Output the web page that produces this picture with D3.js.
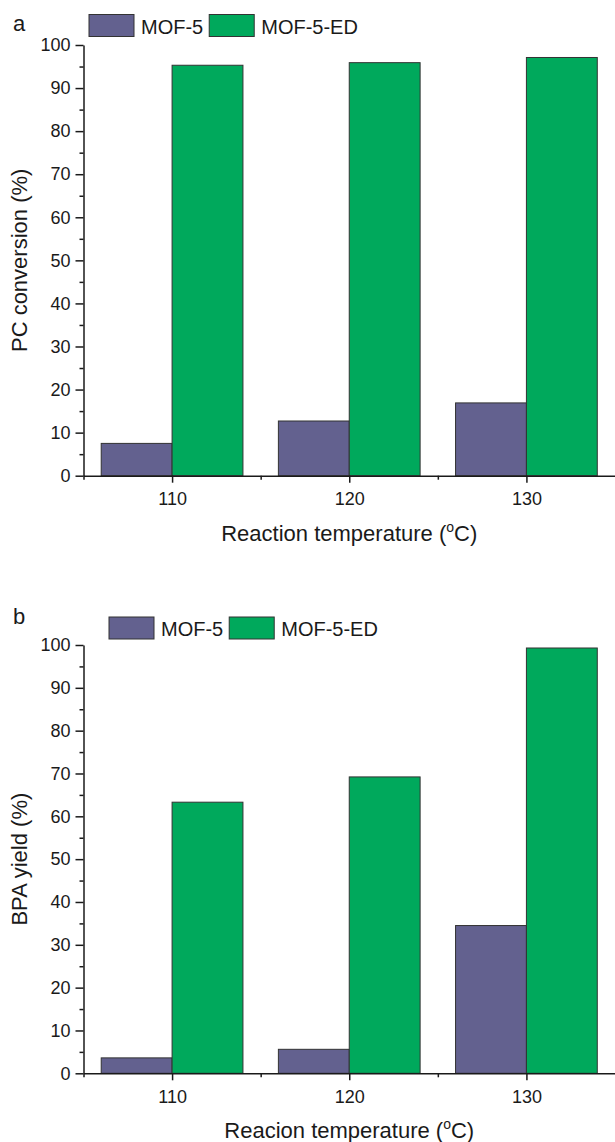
<!DOCTYPE html>
<html lang="en">
  <head>
    <meta charset="UTF-8" />
    <title>MOF-5 vs MOF-5-ED</title>
    <script src="https://d3js.org/d3.v7.min.js"></script>
    <style>
      body {
        margin: 0;
        background: #fff;
      }
      svg {
        display: block;
        font-family: "Liberation Sans", Arial, sans-serif;
      }
      .axis path,
      .axis line {
        stroke: #1a1a1a;
        stroke-width: 1.5;
      }
    </style>
  </head>
  <body>
    <div id="chart"></div>
    <script>
      // data
      const temps = [110, 120, 130];
      const seriesNames = ["MOF-5", "MOF-5-ED"];
      const convMOF5 = [7.5, 12.7, 16.9];
      const convED = [95.3, 95.9, 97.1];
      const yieldMOF5 = [3.6, 5.6, 34.5];
      const yieldED = [63.3, 69.2, 99.3];
      const yTicks = [0, 10, 20, 30, 40, 50, 60, 70, 80, 90, 100];

      const colors = ["#63618f", "#00a95c"];
      const barW = 4; // bar width in degrees

      const svg = d3
        .select("#chart")
        .append("svg")
        .attr("width", 615)
        .attr("height", 1142);

      const panels = [
        {
          letter: "a",
          values: [convMOF5, convED],
          yTitle: "PC conversion (%)",
          xTitle: "Reaction temperature (",
          top: 45,
          bottom: 475.7,
          letterY: 31,
          legendX: 89,
          legendY: 14.5,
        },
        {
          letter: "b",
          values: [yieldMOF5, yieldED],
          yTitle: "BPA yield (%)",
          xTitle: "Reacion temperature (",
          top: 645,
          bottom: 1073.3,
          letterY: 624,
          legendX: 109,
          legendY: 617,
        },
      ];

      const x = d3.scaleLinear().domain([105, 135]).range([83.5, 615]);

      // tick label styling
      const styleTicks = (a) =>
        a
          .selectAll("text")
          .attr("font-family", '"Liberation Sans", Arial, sans-serif')
          .attr("font-size", 18)
          .attr("fill", "#1a1a1a");

      panels.forEach((p) => {
        const g = svg.append("g");
        const y = d3.scaleLinear().domain([0, 100]).range([p.bottom, p.top]);

        // bars
        p.values.forEach((vals, s) => {
          g.selectAll(null)
            .data(vals)
            .enter()
            .append("rect")
            .attr("x", (d, i) => (s === 0 ? x(temps[i] - barW) : x(temps[i])))
            .attr("width", x(105 + barW) - x(105))
            .attr("y", (d) => y(d))
            .attr("height", (d) => y(0) - y(d))
            .attr("fill", colors[s])
            .attr("stroke", "#333")
            .attr("stroke-width", 1);
        });

        // y axis minor
        g.append("g")
          .attr("class", "axis")
          .attr("transform", `translate(${x(105)},0)`)
          .call(
            d3
              .axisLeft(y)
              .tickValues(d3.range(5, 100, 10))
              .tickSize(4)
              .tickFormat("")
          )
          .call((a) => a.select(".domain").remove());

        // y axis major
        g.append("g")
          .attr("class", "axis")
          .attr("transform", `translate(${x(105)},0)`)
          .call(
            d3
              .axisLeft(y)
              .tickValues(yTicks)
              .tickSize(8)
              .tickSizeOuter(0)
              .tickPadding(5)
          )
          .call(styleTicks);

        // x axis minor
        g.append("g")
          .attr("class", "axis")
          .attr("transform", `translate(0,${y(0)})`)
          .call(
            d3
              .axisBottom(x)
              .tickValues([105, 115, 125])
              .tickSize(4)
              .tickFormat("")
          )
          .call((a) => a.select(".domain").remove());

        // x axis major
        g.append("g")
          .attr("class", "axis")
          .attr("transform", `translate(0,${y(0)})`)
          .call(
            d3
              .axisBottom(x)
              .tickValues(temps)
              .tickSize(7)
              .tickSizeOuter(0)
              .tickPadding(10)
          )
          .call(styleTicks);

        // y title
        g.append("text")
          .attr(
            "transform",
            `translate(27,${(p.top + p.bottom) / 2}) rotate(-90)`
          )
          .attr("text-anchor", "middle")
          .attr("font-size", 22)
          .attr("fill", "#1a1a1a")
          .text(p.yTitle);

        // x title with superscript o
        const xt = g
          .append("text")
          .attr("x", x(120))
          .attr("y", p.bottom + 65)
          .attr("text-anchor", "middle")
          .attr("font-size", 22)
          .attr("fill", "#1a1a1a");
        xt.append("tspan").text(p.xTitle);
        xt.append("tspan").attr("dy", -9).attr("font-size", 14).text("o");
        xt.append("tspan").attr("dy", 9).text("C)");

        // panel letter
        g.append("text")
          .attr("x", 13)
          .attr("y", p.letterY)
          .attr("font-size", 22)
          .attr("fill", "#1a1a1a")
          .text(p.letter);

        // legend
        const leg = g
          .append("g")
          .attr("transform", `translate(${p.legendX},${p.legendY})`);
        let lx = 0;
        seriesNames.forEach((name, i) => {
          leg
            .append("rect")
            .attr("x", lx)
            .attr("y", 0)
            .attr("width", 45)
            .attr("height", 22)
            .attr("fill", colors[i])
            .attr("stroke", "#333")
            .attr("stroke-width", 1);
          const t = leg
            .append("text")
            .attr("x", lx + 52)
            .attr("y", 19)
            .attr("font-size", 20)
            .attr("fill", "#1a1a1a")
            .text(name);
          lx += 52 + t.node().getComputedTextLength() + 6;
        });
      });
    </script>
  </body>
</html>
